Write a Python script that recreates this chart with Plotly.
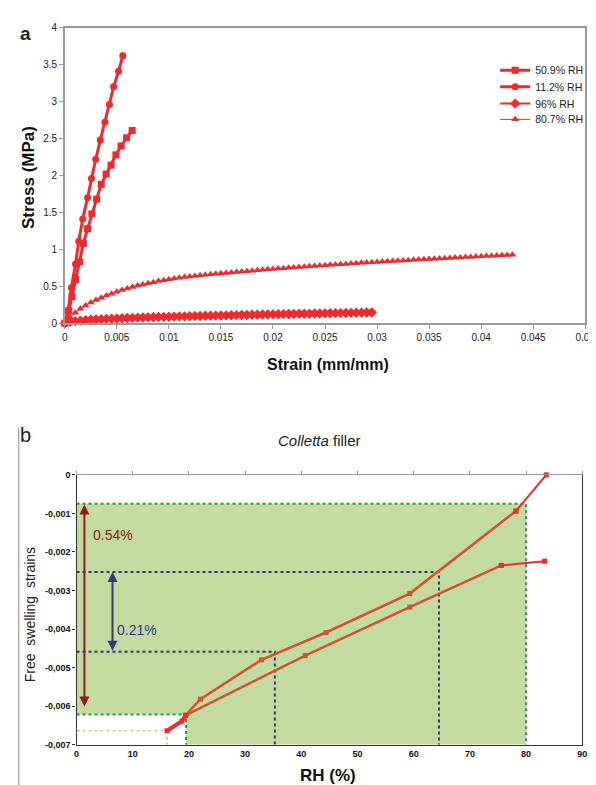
import plotly.graph_objects as go

W, H = 596, 785
FONT = "Arial, Liberation Sans, sans-serif"
RED = "#ee2a2e"

# ---------------- Panel a data ----------------
# strain values in 1e-3 mm/mm, stress in MPa
strain_509 = [0, 0.38, 0.69, 1.03, 1.41, 1.78, 2.19, 2.60, 3.06, 3.50, 3.97, 4.44, 4.91, 5.41, 5.94, 6.47]
stress_509 = [0, 0.17, 0.36, 0.59, 0.83, 1.08, 1.28, 1.48, 1.68, 1.88, 2.02, 2.14, 2.28, 2.40, 2.51, 2.61]

strain_112 = [0, 0.31, 0.63, 1.03, 1.34, 1.72, 2.19, 2.56, 2.97, 3.41, 3.85, 4.29, 4.69, 5.16, 5.57]
stress_112 = [0, 0.16, 0.48, 0.80, 1.11, 1.41, 1.70, 1.96, 2.22, 2.48, 2.72, 2.96, 3.20, 3.41, 3.62]

strain_96 = [0, 0.5, 1.0, 1.5, 2.0, 2.5, 3.0, 3.5, 4.0, 4.5,
             5.0, 5.5, 6.0, 6.5, 7.0, 7.5, 8.0, 8.5, 9.0, 9.5,
             10.0, 10.5, 11.0, 11.5, 12.0, 12.5, 13.0, 13.5, 14.0, 14.5,
             15.0, 15.5, 16.0, 16.5, 17.0, 17.5, 18.0, 18.5, 19.0, 19.5,
             20.0, 20.5, 21.0, 21.5, 22.0, 22.5, 23.0, 23.5, 24.0, 24.5,
             25.0, 25.5, 26.0, 26.5, 27.0, 27.5, 28.0, 28.5, 29.0, 29.5]
stress_96 = [0, .018, .028, .035, .041, .046, .050, .054, .058, .061,
             .064, .067, .070, .072, .075, .077, .079, .081, .083, .085,
             .087, .089, .091, .093, .095, .097, .098, .100, .102, .103,
             .105, .106, .108, .109, .111, .112, .114, .115, .117, .118,
             .120, .121, .123, .124, .125, .127, .128, .129, .131, .132,
             .133, .135, .136, .137, .139, .140, .141, .143, .144, .145]

strain_807 = [0, 0.5, 1.0, 1.5, 2.0, 2.5, 3.0, 3.5, 4.0, 4.5,
              5.0, 5.5, 6.0, 6.5, 7.0, 7.5, 8.0, 8.5, 9.0, 9.5,
              10.0, 10.5, 11.0, 11.5, 12.0, 12.5, 13.0, 13.5, 14.0, 14.5,
              15.0, 15.5, 16.0, 16.5, 17.0, 17.5, 18.0, 18.5, 19.0, 19.5,
              20.0, 20.5, 21.0, 21.5, 22.0, 22.5, 23.0, 23.5, 24.0, 24.5,
              25.0, 25.5, 26.0, 26.5, 27.0, 27.5, 28.0, 28.5, 29.0, 29.5,
              30.0, 30.5, 31.0, 31.5, 32.0, 32.5, 33.0, 33.5, 34.0, 34.5,
              35.0, 35.5, 36.0, 36.5, 37.0, 37.5, 38.0, 38.5, 39.0, 39.5,
              40.0, 40.5, 41.0, 41.5, 42.0, 42.5, 43.0]
stress_807 = [0, .080, .140, .195, .240, .280, .315, .345, .375, .400,
              .425, .448, .470, .490, .510, .525, .540, .555, .570, .583,
              .595, .605, .615, .624, .632, .640, .648, .655, .662, .669,
              .675, .681, .687, .693, .699, .705, .711, .717, .723, .729,
              .735, .740, .745, .750, .755, .760, .765, .770, .775, .780,
              .785, .790, .794, .799, .803, .808, .812, .817, .821, .826,
              .830, .834, .838, .842, .846, .850, .854, .858, .862, .866,
              .870, .874, .877, .881, .884, .888, .891, .895, .898, .902,
              .905, .909, .912, .916, .919, .923, .928]

a_xticks = [0, 0.005, 0.01, 0.015, 0.02, 0.025, 0.03, 0.035, 0.04, 0.045, 0.05]
a_xlabels = ["0", "0.005", "0.01", "0.015", "0.02", "0.025", "0.03", "0.035", "0.04", "0.045", "0.05"]
a_yticks = [0, 0.5, 1, 1.5, 2, 2.5, 3, 3.5, 4]
a_ylabels = ["0", "0.5", "1", "1.5", "2", "2.5", "3", "3.5", "4"]

# ---------------- Panel b data ----------------
start_rh = [16.1, 18.75, 19.4]
start_strain = [-0.00664, -0.00639, -0.00624]
upper_rh = [19.4, 22.05, 32.9, 44.4, 59.3, 78.2]
upper_strain = [-0.00624, -0.00582, -0.00480, -0.00409, -0.00308, -0.00094]
upper_end_rh = [78.2, 83.6]
upper_end_strain = [-0.00094, 0.0]
lower_rh = [19.4, 40.7, 59.3, 75.6]
lower_strain = [-0.00624, -0.00469, -0.00343, -0.00235]
lower_end_rh = [75.6, 83.3]
lower_end_strain = [-0.00235, -0.00224]

band_rh = [0, 19.5, 80]                 # green zone limits
band_strain = [-0.00075, -0.00622, -0.007]
blue_rh = [35.3, 64.5]
blue_strain = [-0.00459, -0.00252]
min_rh, min_strain = 16.1, -0.00664

b_xticks = [0, 10, 20, 30, 40, 50, 60, 70, 80, 90]
b_xlabels = ["0", "10", "20", "30", "40", "50", "60", "70", "80", "90"]
b_yticks = [0, -0.001, -0.002, -0.003, -0.004, -0.005, -0.006, -0.007]
b_ylabels = ["0", "-0,001", "-0,002", "-0,003", "-0,004", "-0,005", "-0,006", "-0,007"]

fig = go.Figure()

def ms(v):
    return [x / 1000 for x in v]

series_a = [
    ("50.9% RH", strain_509, stress_509, "square", 7, 3, "legend"),
    ("11.2% RH", strain_112, stress_112, "circle", 7, 3, "legend2"),
    ("96% RH", strain_96, stress_96, "diamond", 8, 2, "legend3"),
    ("80.7% RH", strain_807, stress_807, "triangle-up", 7, 1, "legend4"),
]
for name, sx, sy, sym, size, lw, lg in series_a:
    fig.add_trace(go.Scatter(x=ms(sx), y=sy, name=name, mode="lines+markers",
                             line=dict(color=RED, width=lw), marker=dict(symbol=sym, size=size, color=RED),
                             cliponaxis=False, xaxis="x", yaxis="y", legend=lg))

# ---- panel b ----
GREEN_FILL = "rgb(195,219,160)"
GREEN_DOT = "#24984a"
BLUE_DOT = "#2b3b62"
ORANGE = "#d5502c"
BRED = "#f02a2a"

fig.add_trace(go.Scatter(
    x=[band_rh[0], band_rh[2], band_rh[2], band_rh[1], band_rh[1], band_rh[0], band_rh[0]],
    y=[band_strain[0], band_strain[0], band_strain[2], band_strain[2], band_strain[1], band_strain[1], band_strain[0]],
    fill="toself", fillcolor=GREEN_FILL, line=dict(width=0), mode="lines",
    showlegend=False, hoverinfo="skip", xaxis="x2", yaxis="y2"))

def dline(xs, ys, color, width=2):
    fig.add_trace(go.Scatter(x=xs, y=ys, mode="lines", line=dict(color=color, width=width, dash="dot"),
                             showlegend=False, hoverinfo="skip", xaxis="x2", yaxis="y2", cliponaxis=False))

dline([band_rh[0], band_rh[2], band_rh[2]], [band_strain[0], band_strain[0], band_strain[2]], GREEN_DOT)
dline([band_rh[0], band_rh[1], band_rh[1]], [band_strain[1], band_strain[1], band_strain[2]], GREEN_DOT)
dline([0, blue_rh[1], blue_rh[1]], [blue_strain[1], blue_strain[1], band_strain[2]], BLUE_DOT)
dline([0, blue_rh[0], blue_rh[0]], [blue_strain[0], blue_strain[0], band_strain[2]], BLUE_DOT)
dline([0, min_rh], [min_strain, min_strain], "#c8b050", 1)
dline([min_rh, min_rh], [min_strain, band_strain[2]], "#98cc70", 1.5)

def curve(xs, ys, color, width):
    fig.add_trace(go.Scatter(x=xs, y=ys, mode="lines+markers", line=dict(color=color, width=width),
                             marker=dict(symbol="square", size=5, color=color),
                             showlegend=False, xaxis="x2", yaxis="y2", cliponaxis=False))

curve(upper_rh, upper_strain, ORANGE, 2.5)
curve(lower_rh, lower_strain, ORANGE, 2.5)
curve(upper_end_rh, upper_end_strain, BRED, 2)
curve(lower_end_rh, lower_end_strain, BRED, 2)
curve(start_rh, start_strain, BRED, 4)

axis_font = dict(family=FONT, size=10, color="#222")
leg_font = dict(family=FONT, size=10.5, color="#222")
leg_y = [57, 74, 91, 107]

def legend_at(yc):
    return dict(x=495 / W, y=1 - yc / H, xanchor="left", yanchor="middle", bgcolor="rgba(0,0,0,0)",
                font=leg_font, itemwidth=30, tracegroupgap=0)

fig.update_layout(
    width=W, height=H, margin=dict(l=0, r=0, t=0, b=0),
    paper_bgcolor="white", plot_bgcolor="white",
    font=dict(family=FONT, color="#222"),
    xaxis=dict(domain=[55 / W, 587 / W], anchor="y", range=[0, 0.05], tickvals=a_xticks, ticktext=a_xlabels,
               showgrid=False, zeroline=False, showline=True, linecolor="#9a9a9a", linewidth=1.5, mirror=True,
               ticks="outside", ticklen=4, tickcolor="#9a9a9a", tickfont=axis_font),
    yaxis=dict(domain=[1 - 314 / H, 1 - 14 / H], anchor="x", range=[0, 4], tickvals=a_yticks, ticktext=a_ylabels,
               showgrid=False, zeroline=False, showline=True, linecolor="#9a9a9a", linewidth=1.5, mirror=True,
               ticks="outside", ticklen=4, tickcolor="#9a9a9a", tickfont=axis_font),
    xaxis2=dict(domain=[67 / W, 584 / W], anchor="y2", range=[0, 90], tickvals=b_xticks, ticktext=b_xlabels,
                showgrid=False, zeroline=False, showline=True, linecolor="#333", linewidth=1.2,
                ticks="", tickfont=dict(family=FONT, size=9, color="#111", weight="bold")),
    xaxis3=dict(overlaying="x2", anchor="y2", side="top", range=[0, 90], tickvals=b_xticks,
                showticklabels=False, showgrid=False, zeroline=False, showline=True, linecolor="#999",
                linewidth=1, ticks="outside", ticklen=3, tickcolor="#999"),
    yaxis2=dict(domain=[1 - 742 / H, 1 - 468 / H], anchor="x2", range=[-0.007, 0], tickvals=b_yticks,
                ticktext=b_ylabels, showgrid=False, zeroline=False, showline=True, linecolor="#333",
                linewidth=1.2, mirror=True, ticks="outside", ticklen=3, tickcolor="#333",
                tickfont=dict(family=FONT, size=9, color="#111", weight="bold")),
    legend=legend_at(leg_y[0]),
    legend2=legend_at(leg_y[1]),
    legend3=legend_at(leg_y[2]),
    legend4=legend_at(leg_y[3]),
)

# dummy trace so xaxis3 renders
fig.add_trace(go.Scatter(x=[None], y=[None], xaxis="x3", yaxis="y2", showlegend=False, hoverinfo="skip"))

ann = [
    dict(text="<b>a</b>", x=15 / W, y=1 - 20 / H, font=dict(size=19, color="#222")),
    dict(text="b", x=15 / W, y=1 - 428 / H, font=dict(size=20, color="#222")),
    dict(text="<b>Stress (MPa)</b>", x=18 / W, y=1 - 166 / H, textangle=-90, font=dict(size=17, color="#111")),
    dict(text="<b>Strain (mm/mm)</b>", x=324 / W, y=1 - 356 / H, font=dict(size=16, color="#111")),
    dict(text="<i>Colletta</i> filler", x=315 / W, y=1 - 433 / H, font=dict(size=15, color="#222")),
    dict(text="Free  swelling  strains", x=19 / W, y=1 - 610 / H, textangle=-90, font=dict(size=14, color="#222")),
    dict(text="<b>RH (%)</b>", x=324 / W, y=1 - 773 / H, font=dict(size=17, color="#111")),
]
for a in ann:
    a.update(xref="paper", yref="paper", showarrow=False, xanchor="center", yanchor="middle")
    a["font"]["family"] = FONT
    fig.add_annotation(**a)

# arrows
fig.add_annotation(x=1.4, y=-0.00077, ax=1.4, ay=-0.00605, xref="x2", yref="y2", axref="x2", ayref="y2",
                   text="", showarrow=True, arrowside="end+start", arrowhead=2, arrowsize=1, arrowwidth=2,
                   arrowcolor="#8b1c1c")
fig.add_annotation(x=6.4, y=-0.00252, ax=6.4, ay=-0.0046, xref="x2", yref="y2", axref="x2", ayref="y2",
                   text="", showarrow=True, arrowside="end+start", arrowhead=2, arrowsize=1, arrowwidth=2,
                   arrowcolor="#2d3a80")
fig.add_annotation(x=2.5, y=-0.00157, xref="x2", yref="y2", text="0.54%", showarrow=False, xanchor="left",
                   font=dict(family=FONT, size=14, color="#8b1c1c"))
fig.add_annotation(x=6.8, y=-0.00403, xref="x2", yref="y2", text="0.21%", showarrow=False, xanchor="left",
                   font=dict(family=FONT, size=14, color="#2d3a80"))

# panel b left border
fig.add_shape(type="line", xref="paper", yref="paper", x0=8 / W, x1=8 / W, y0=0, y1=1 - 420 / H,
              line=dict(color="#888", width=1))

fig.write_html("out.html")
